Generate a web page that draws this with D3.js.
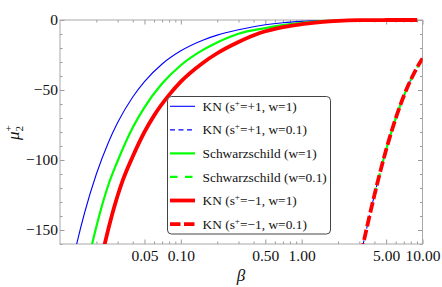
<!DOCTYPE html>
<html><head><meta charset="utf-8">
<script src="https://cdn.jsdelivr.net/npm/d3@7"></script>
<style>body{margin:0;background:#fff}svg{display:block}
text{font-family:"Liberation Serif","Times New Roman","DejaVu Serif",serif !important;}</style>
</head><body>
<svg id="c" width="442" height="287"></svg>
<script>
// ---- data (beta, mu2+) ----
const knPlusW1 = [[0.0132,-166.7],[0.0138,-159.4],[0.016,-137.5],[0.02,-110],[0.025,-88],[0.03,-73.3],[0.04,-55],[0.05,-44],[0.07,-31.4],[0.1,-22],[0.15,-14.6],[0.2,-10.8],[0.3,-7.0],[0.5,-3.4],[0.7,-1.93],[1.0,-1.0],[1.5,-0.4],[2,-0.2],[3,-0.05],[5,-0.01],[9.04,0]];
const schwW1   = [[0.0176,-167.6],[0.0184,-160.3],[0.021,-140.5],[0.025,-118.4],[0.03,-100.7],[0.04,-76.8],[0.05,-62.4],[0.07,-45.4],[0.1,-32.3],[0.15,-21.7],[0.2,-16.0],[0.3,-9.8],[0.5,-5.8],[0.7,-3.7],[1.0,-2.0],[1.5,-0.8],[2,-0.35],[3,-0.1],[5,-0.012],[9.04,0]];
const knMinusW1= [[0.0225,-166.7],[0.0234,-160.3],[0.027,-139],[0.033,-114.8],[0.04,-97.5],[0.05,-80],[0.06,-68.3],[0.08,-53.5],[0.1,-44],[0.15,-31],[0.2,-23.75],[0.3,-15.7],[0.45,-9.3],[0.7,-5.1],[1.0,-3.0],[1.5,-1.27],[2,-0.6],[3,-0.15],[5,-0.016],[9.04,0]];
const knPlusW01  = [[3.1,-166.9],[3.236,-159.7],[3.5,-146.6],[4,-125.1],[4.5,-107.4],[5,-92.7],[5.555,-79.3],[6,-70.3],[7,-54.3],[8,-42.7],[9,-34.1],[10,-27.5]];
const schwW01    = [[3.1,-166.9],[3.236,-159.7],[3.5,-146.6],[4,-125.1],[4.5,-107.4],[5,-92.7],[5.555,-79.3],[6,-70.3],[7,-54.3],[8,-42.7],[9,-34.1],[10,-27.5]];
const knMinusW01 = [[3.1,-166.9],[3.236,-159.7],[3.5,-146.6],[4,-125.1],[4.5,-107.4],[5,-92.7],[5.555,-79.3],[6,-70.3],[7,-54.3],[8,-42.7],[9,-34.1],[10,-27.5]];

const xMajorTicks = [0.05, 0.1, 0.5, 1, 5, 10];
const xMajorLabels = ["0.05", "0.10", "0.50", "1.00", "5.00", "10.00"];
const xMinorTicks = [0.02,0.03,0.04,0.06,0.07,0.08,0.09,0.2,0.3,0.4,0.6,0.7,0.8,0.9,2,3,4,6,7,8,9];
const yMajorTicks = [0, -50, -100, -150];
const yMinorTicks = [-10,-20,-30,-40,-60,-70,-80,-90,-110,-120,-130,-140,-160];

const legendLabels = [
  ["KN (s", "+", "=+1, w=1)"],
  ["KN (s", "+", "=+1, w=0.1)"],
  ["Schwarzschild (w=1)", "", ""],
  ["Schwarzschild (w=0.1)", "", ""],
  ["KN (s", "+", "=\u22121, w=1)"],
  ["KN (s", "+", "=\u22121, w=0.1)"]
];

// ---- layout ----
const L = 60, R = 422.5, T = 20, B = 244;
const FONT = '"Liberation Serif","Times New Roman",serif';
const svg = d3.select("#c");
const x = d3.scaleLog().domain([0.01, 10]).range([L, R]);
const y = d3.scaleLinear().domain([-160, 0]).range([B, T]);

const series = [
  {data: knPlusW1,  color: "#0000ff", w: 1.1, dash: null},
  {data: schwW1,    color: "#00ff00", w: 2.2, dash: null},
  {data: knMinusW1, color: "#ff0000", w: 3.8, dash: null},
  {data: knPlusW01, color: "#0000ff", w: 1.1, dash: "5,3.5"},
  {data: schwW01,   color: "#00ff00", w: 2.2, dash: "7.5,7.5"},
  {data: knMinusW01,color: "#ff0000", w: 3.8, dash: "10.5,3.5"}
];
const legendOrder = [0, 3, 1, 4, 2, 5];

svg.append("defs").append("clipPath").attr("id","clip")
  .append("rect").attr("x", L).attr("y", T-6).attr("width", R-L).attr("height", B-T+6);

const line = d3.line().x(d => x(d[0])).y(d => y(d[1])).curve(d3.curveMonotoneX);

const gAxes = svg.append("g");

function styleAxis(g) {
  g.attr("font-family", FONT).attr("font-size", 15.5);
  g.select(".domain").remove();
  g.selectAll(".tick line").attr("stroke", "#9a9a9a");
  g.selectAll(".tick text").attr("fill", "#111").style("font-family", FONT).style("font-size", "15.5px");
}

// bottom
gAxes.append("g").attr("transform", `translate(0,${B})`)
  .call(d3.axisBottom(x).tickValues(xMajorTicks).tickFormat((d,i)=>xMajorLabels[i]).tickSizeInner(-4.5).tickSizeOuter(0).tickPadding(6))
  .call(styleAxis);
gAxes.append("g").attr("transform", `translate(0,${B})`)
  .call(d3.axisBottom(x).tickValues(xMinorTicks).tickFormat("").tickSizeInner(-2.5).tickSizeOuter(0))
  .call(styleAxis);
// top
gAxes.append("g").attr("transform", `translate(0,${T})`)
  .call(d3.axisTop(x).tickValues(xMajorTicks).tickFormat("").tickSizeInner(-4.5).tickSizeOuter(0))
  .call(styleAxis);
gAxes.append("g").attr("transform", `translate(0,${T})`)
  .call(d3.axisTop(x).tickValues(xMinorTicks).tickFormat("").tickSizeInner(-2.5).tickSizeOuter(0))
  .call(styleAxis);
// left
gAxes.append("g").attr("transform", `translate(${L},0)`)
  .call(d3.axisLeft(y).tickValues(yMajorTicks).tickFormat(d => d === 0 ? "0" : "\u2212" + Math.abs(d)).tickSizeInner(-4.5).tickSizeOuter(0).tickPadding(2))
  .call(styleAxis);
gAxes.append("g").attr("transform", `translate(${L},0)`)
  .call(d3.axisLeft(y).tickValues(yMinorTicks).tickFormat("").tickSizeInner(-2.5).tickSizeOuter(0))
  .call(styleAxis);
// right
gAxes.append("g").attr("transform", `translate(${R},0)`)
  .call(d3.axisRight(y).tickValues(yMajorTicks).tickFormat("").tickSizeInner(-4.5).tickSizeOuter(0))
  .call(styleAxis);
gAxes.append("g").attr("transform", `translate(${R},0)`)
  .call(d3.axisRight(y).tickValues(yMinorTicks).tickFormat("").tickSizeInner(-2.5).tickSizeOuter(0))
  .call(styleAxis);

// frame
svg.append("rect").attr("x", L).attr("y", T).attr("width", R-L).attr("height", B-T)
  .attr("fill", "none").attr("stroke", "#a8a8a8").attr("stroke-width", 1);

// curves
const gLines = svg.append("g").attr("clip-path", "url(#clip)");
series.forEach(s => {
  gLines.append("path").attr("d", line(s.data)).attr("fill", "none")
    .attr("stroke", s.color).attr("stroke-width", s.w)
    .attr("stroke-dasharray", s.dash).attr("stroke-linejoin", "round");
});

// axis titles
const yt = svg.append("text").attr("transform", "translate(19,140) rotate(-90)")
  .style("font-family", FONT).attr("font-size", 17).attr("fill", "#111");
yt.append("tspan").attr("font-style", "italic").text("\u03bc");
yt.append("tspan").attr("font-size", 11).attr("dy", 4).text("2");
yt.append("tspan").attr("font-size", 11).attr("dx", -5.5).attr("dy", -11).text("+");

svg.append("text").attr("x", 241).attr("y", 281).attr("text-anchor", "middle")
  .style("font-family", FONT).attr("font-size", 17)
  .attr("font-style", "italic").attr("fill", "#111").text("\u03b2");

// legend
const lg = svg.append("g");
lg.append("rect").attr("x", 167.5).attr("y", 96.5).attr("width", 163).attr("height", 137.5)
  .attr("rx", 4).attr("fill", "#fff").attr("stroke", "#444").attr("stroke-width", 1);
const rows = lg.selectAll("g.row").data(legendOrder).join("g").attr("class", "row")
  .attr("transform", (d,i) => `translate(0,${106.3 + i*23.55})`);
rows.append("line").attr("x1", 170).attr("x2", 195).attr("y1", 0).attr("y2", 0)
  .attr("stroke", d => series[d].color).attr("stroke-width", d => series[d].w)
  .attr("stroke-dasharray", d => series[d].dash);
rows.each(function(d, i) {
  const t = d3.select(this).append("text").attr("x", 202.5).attr("y", 4.6)
    .style("font-family", FONT).attr("font-size", 13.4).attr("fill", "#111");
  const parts = legendLabels[i];
  t.append("tspan").text(parts[0]);
  if (parts[1]) {
    t.append("tspan").attr("font-size", 9).attr("dy", -5).text(parts[1]);
    t.append("tspan").attr("dy", 5).text(parts[2]);
  }
});
</script>
</body></html>
